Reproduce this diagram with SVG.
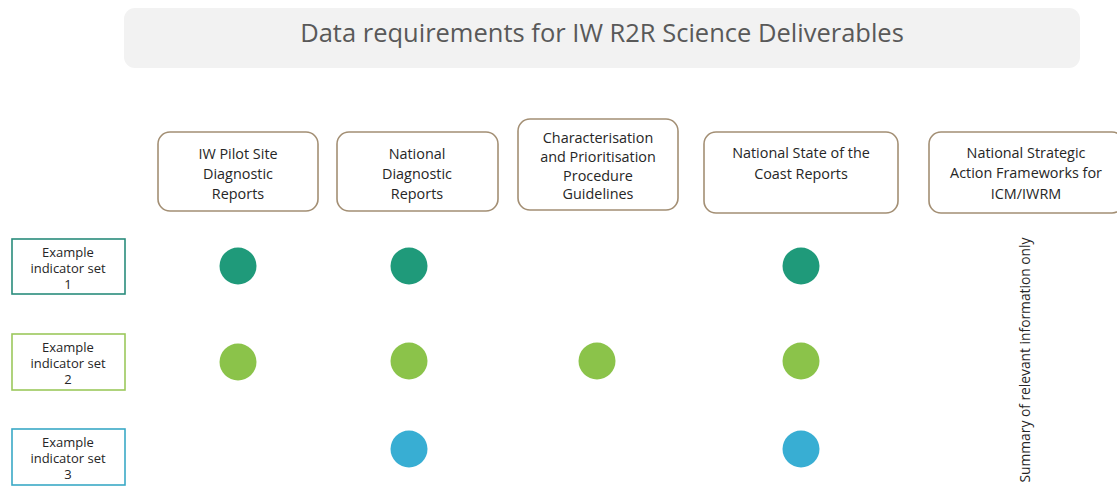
<svg xmlns="http://www.w3.org/2000/svg" width="1117" height="487" viewBox="0 0 1117 487">
<style>
text{font-family:"Open Sans","Noto Sans","Liberation Sans",sans-serif;text-anchor:middle;fill:#262626}
.title{font-size:25.5px;fill:#595959}
.hd{fill:#fff;stroke:#a38f74;stroke-width:1.6}
.hdt{font-size:14.4px}
.ind{fill:#fff;stroke-width:1.6}
.indt{font-size:13px}
.note{font-size:13.8px}
.c1{fill:#1f9a7a}
.c2{fill:#8bc34a}
.c3{fill:#38aed3}
</style>
<rect width="1117" height="487" fill="#fff"/>
<g id="title">
<rect x="124" y="8" width="956" height="60" rx="11" fill="#f2f2f2"/>
<text class="title" x="602" y="42">Data requirements for IW R2R Science Deliverables</text>
</g>
<g id="h1"><rect class="hd" x="158" y="132" width="160" height="79" rx="12"/>
<text class="hdt" x="238" y="159">IW Pilot Site</text><text class="hdt" x="238" y="179">Diagnostic</text><text class="hdt" x="238" y="199">Reports</text></g>
<g id="h2"><rect class="hd" x="337" y="132" width="161" height="79" rx="12"/>
<text class="hdt" x="417" y="159">National</text><text class="hdt" x="417" y="179">Diagnostic</text><text class="hdt" x="417" y="199">Reports</text></g>
<g id="h3"><rect class="hd" x="518" y="119" width="160" height="91" rx="12"/>
<text class="hdt" x="598" y="143">Characterisation</text><text class="hdt" x="598" y="162">and Prioritisation</text><text class="hdt" x="598" y="181">Procedure</text><text class="hdt" x="598" y="199">Guidelines</text></g>
<g id="h4"><rect class="hd" x="704" y="132" width="194" height="81" rx="12"/>
<text class="hdt" x="801" y="158">National State of the</text><text class="hdt" x="801" y="179">Coast Reports</text></g>
<g id="h5"><rect class="hd" x="929" y="132" width="195" height="81" rx="12"/>
<text class="hdt" x="1026" y="158">National Strategic</text><text class="hdt" x="1026" y="178">Action Frameworks for</text><text class="hdt" x="1026" y="199">ICM/IWRM</text></g>
<g id="i1"><rect class="ind" x="12" y="239" width="113" height="55" stroke="#2a8c7c"/>
<text class="indt" x="68" y="257">Example</text><text class="indt" x="68" y="273">indicator set</text><text class="indt" x="68" y="289">1</text></g>
<g id="i2"><rect class="ind" x="12" y="334" width="113" height="56" stroke="#9cc85c"/>
<text class="indt" x="68" y="352">Example</text><text class="indt" x="68" y="368">indicator set</text><text class="indt" x="68" y="384">2</text></g>
<g id="i3"><rect class="ind" x="12" y="429" width="113" height="56" stroke="#3aa9c6"/>
<text class="indt" x="68" y="447">Example</text><text class="indt" x="68" y="463">indicator set</text><text class="indt" x="68" y="479">3</text></g>
<g id="dots">
<circle class="c1" cx="238" cy="266" r="18.5"/>
<circle class="c1" cx="409" cy="266" r="18.5"/>
<circle class="c1" cx="801" cy="266" r="18.5"/>
<circle class="c2" cx="238" cy="362" r="18.5"/>
<circle class="c2" cx="409" cy="361" r="18.5"/>
<circle class="c2" cx="597" cy="361" r="18.5"/>
<circle class="c2" cx="801" cy="361" r="18.5"/>
<circle class="c3" cx="409" cy="449" r="18.5"/>
<circle class="c3" cx="801" cy="449" r="18.5"/>
</g>
<g id="note">
<text class="note" transform="translate(1030,360) rotate(-90)" x="0" y="0">Summary of relevant information only</text>
</g>
<g id="connectors"></g>
</svg>
